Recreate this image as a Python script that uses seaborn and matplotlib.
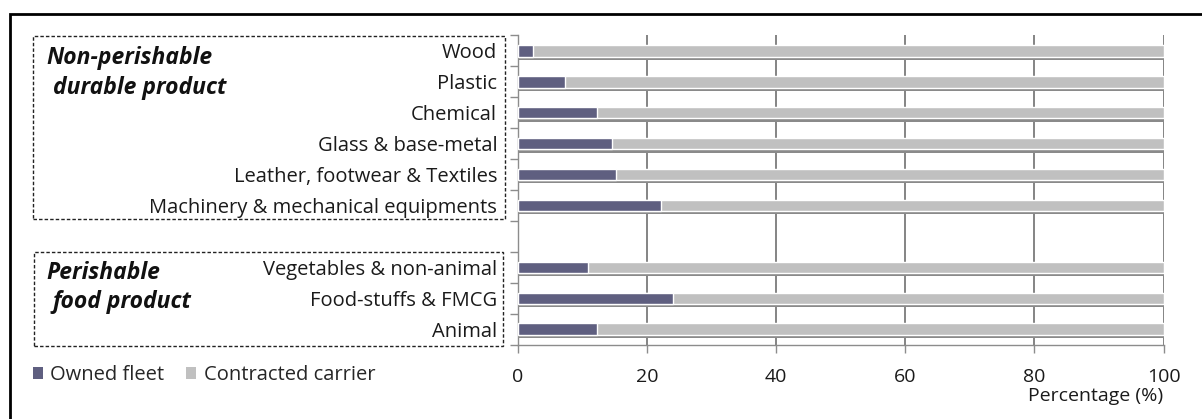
import matplotlib
matplotlib.use("Agg")
import matplotlib.pyplot as plt
import matplotlib.patheffects as pe
from matplotlib.patches import Rectangle, Patch
from matplotlib.ticker import FixedLocator
import seaborn as sns
import pandas as pd

sns.set_theme(style="white")
plt.rcParams["font.family"] = ["Open Sans", "DejaVu Sans"]

# Share of transport by product type (%)
categories = ["Wood", "Plastic", "Chemical", "Glass & base-metal",
              "Leather, footwear & Textiles", "Machinery & mechanical equipments",
              "", "Vegetables & non-animal", "Food-stuffs & FMCG", "Animal"]
products = ["Wood", "Plastic", "Chemical", "Glass & base-metal",
            "Leather, footwear & Textiles", "Machinery & mechanical equipments",
            "Vegetables & non-animal", "Food-stuffs & FMCG", "Animal"]
owned_fleet = [2.3, 7.3, 12.3, 14.5, 15.1, 22.1, 10.9, 24.0, 12.3]
contracted_carrier = [97.7, 92.7, 87.7, 85.5, 84.9, 77.9, 89.1, 76.0, 87.7]
x_ticks = [0, 20, 40, 60, 80, 100]

df = pd.DataFrame({"product": products,
                   "owned": owned_fleet,
                   "contracted": contracted_carrier})
df["total"] = df["owned"] + df["contracted"]

c_owned = "#5f5f80"
c_contr = "#c0c0c0"
txt = "#1a1a1a"

fig = plt.figure(figsize=(12.02, 4.19), dpi=100)
ax = fig.add_axes([0.431, 0.177, 0.537, 0.739])

shadow = [pe.SimplePatchShadow(offset=(0, -2.2), shadow_rgbFace="#8a8a8a", alpha=1.0),
          pe.Normal()]

sns.barplot(data=df, y="product", x="total", order=categories, orient="h",
            color=c_contr, saturation=1, width=0.38, ax=ax,
            edgecolor="white", linewidth=1.0)
sns.barplot(data=df, y="product", x="owned", order=categories, orient="h",
            color=c_owned, saturation=1, width=0.38, ax=ax,
            edgecolor="white", linewidth=1.0)
half = len(ax.patches) // 2
for i, p in enumerate(ax.patches):
    if i < half:
        p.set_path_effects(shadow)
        p.set_zorder(2.5)
    else:
        p.set_zorder(3)

ax.set_xlim(0, 100)
ax.set_ylim(len(categories) - 0.5, -0.5)
ax.set_xticks(x_ticks)
ax.set_xticklabels([str(t) for t in x_ticks])
ax.set_xlabel("")
ax.set_ylabel("")
ax.xaxis.grid(True, color="#707070", linewidth=1.2)
ax.set_axisbelow(True)

for s in ["top", "right"]:
    ax.spines[s].set_visible(False)
for s in ["left", "bottom"]:
    ax.spines[s].set_color("#8c8c8c")
    ax.spines[s].set_linewidth(1.0)

ax.yaxis.set_minor_locator(FixedLocator([i - 0.5 for i in range(len(categories) + 1)]))
ax.tick_params(axis="y", which="major", length=0, pad=15, labelsize=14.5, labelcolor=txt)
ax.tick_params(axis="y", which="minor", length=6, width=1.0, color="#8c8c8c", left=True)
ax.tick_params(axis="x", which="major", length=6, width=1.0, color="#8c8c8c",
               bottom=True, direction="out", pad=11, labelsize=14, labelcolor=txt)

ax.text(1.0, -0.165, "Percentage (%)", transform=ax.transAxes, ha="right", va="center",
        fontsize=14, color=txt)

# group frames and titles
fig.add_artist(Rectangle((33 / 1202, 1 - 219 / 419), (505 - 33) / 1202, (219 - 36) / 419,
                         transform=fig.transFigure, fill=False, edgecolor="#222222",
                         linestyle=(0, (2.5, 1.5)), linewidth=1.0))
fig.add_artist(Rectangle((34 / 1202, 1 - 346 / 419), (503 - 34) / 1202, (346 - 252) / 419,
                         transform=fig.transFigure, fill=False, edgecolor="#222222",
                         linestyle=(0, (2.5, 1.5)), linewidth=1.0))
group_style = dict(ha="left", va="center", fontsize=16.5, fontweight="bold",
                   fontstyle="italic", color="#111111")
fig.text(46 / 1202, 1 - 58 / 419, "Non-perishable", **group_style)
fig.text(53 / 1202, 1 - 88 / 419, "durable product", **group_style)
fig.text(46 / 1202, 1 - 273 / 419, "Perishable", **group_style)
fig.text(52 / 1202, 1 - 302 / 419, "food product", **group_style)

# outer border
fig.add_artist(Rectangle((10 / 1202, -0.1), 1.2, 1 - 14 / 419 + 0.1,
                         transform=fig.transFigure, fill=False, edgecolor="black",
                         linewidth=2.0))

handles = [Patch(facecolor=c_owned, edgecolor="none", label="Owned fleet"),
           Patch(facecolor=c_contr, edgecolor="none", label="Contracted carrier")]
fig.legend(handles=handles, loc="center left", bbox_to_anchor=(33 / 1202, 1 - 375 / 419),
           ncol=2, frameon=False, fontsize=14.5, handlelength=0.5, handleheight=0.5,
           handletextpad=0.35, columnspacing=1.1, borderaxespad=0, borderpad=0)

fig.savefig("out.png", dpi=100)
